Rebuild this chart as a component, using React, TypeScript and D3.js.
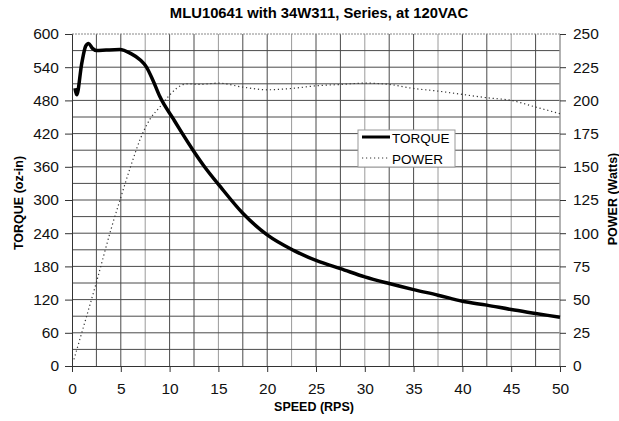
// @ts-nocheck
import React from "react";
import * as d3 from "d3";

const speedTicks = [0, 5, 10, 15, 20, 25, 30, 35, 40, 45, 50];
const torqueTicks = [0, 60, 120, 180, 240, 300, 360, 420, 480, 540, 600];
const powerTicks = [0, 25, 50, 75, 100, 125, 150, 175, 200, 225, 250];

const torqueSpeed = [0.3, 0.48, 1.0, 1.4, 1.7, 2.1, 2.5, 3.5, 4.9, 6.0, 7.0, 7.6, 8.3, 9.0, 10.4, 11.2, 12.4, 13.5, 15.2, 17.5, 20, 22.7, 25.4, 27.5, 30, 32.5, 35, 37.5, 40, 42.5, 45, 47.5, 50];
const torqueValues = [502, 490, 547, 578, 583, 574, 570, 571, 572, 565, 553, 541, 516, 487, 446, 423, 390, 362, 324, 276, 237, 209, 188, 176, 161, 149, 138, 128, 117, 110, 102, 95, 88];

const powerSpeed = [0.2, 1, 2.5, 4, 5, 6, 7, 8, 9, 10, 10.7, 11.8, 13, 15, 17.5, 20, 22.5, 25, 27.5, 30, 32.5, 35, 37.5, 40, 42.5, 45, 47.5, 50];
const powerValues = [5, 25, 63, 103, 127, 150, 171, 186, 195, 204, 209, 212.5, 212, 213, 210, 208, 209, 211, 212, 213, 212, 209, 207, 204.5, 202, 200, 195, 190];

const margin = { left: 72, top: 34, right: 59, bottom: 55 };
const W = 619;
const H = 421;

const Chart = () => {
  const ref = React.useRef(null);

  React.useEffect(() => {
    const width = W - margin.left - margin.right;
    const height = H - margin.top - margin.bottom;
    const x = d3.scaleLinear().domain([0, 50]).range([0, width]);
    const yT = d3.scaleLinear().domain([0, 600]).range([height, 0]);
    const yP = d3.scaleLinear().domain([0, 250]).range([height, 0]);

    const svgEl = d3.select(ref.current);
    svgEl.selectAll("*").remove();
    svgEl.append("rect").attr("width", W).attr("height", H).attr("fill", "white");

    const font = "Liberation Sans, Arial, sans-serif";

    // title
    svgEl.append("text")
      .attr("x", 319).attr("y", 18)
      .attr("text-anchor", "middle")
      .attr("font-family", font)
      .attr("font-weight", "bold")
      .attr("font-size", 14.8)
      .attr("fill", "#000")
      .text("MLU10641 with 34W311, Series, at 120VAC");

    const svg = svgEl.append("g").attr("transform", `translate(${margin.left},${margin.top})`);

    // grid
    const grid = svg.append("g");
    grid.selectAll(".vg")
      .data(d3.range(2.5, 50, 2.5))
      .enter().append("line")
      .attr("x1", d => x(d)).attr("x2", d => x(d))
      .attr("y1", 0).attr("y2", height)
      .attr("stroke", (d, i) => (i % 3 === 2 ? "#9a9a9a" : "#4a4a4a"))
      .attr("stroke-width", 1);
    grid.selectAll(".hg")
      .data(d3.range(30, 600, 30))
      .enter().append("line")
      .attr("x1", 0).attr("x2", width)
      .attr("y1", d => yT(d)).attr("y2", d => yT(d))
      .attr("stroke", "#4a4a4a")
      .attr("stroke-width", 1);
    // top border dotted, right border gray
    svg.append("line").attr("x1", 0).attr("x2", width).attr("y1", 0).attr("y2", 0)
      .attr("stroke", "#888").attr("stroke-dasharray", "2,1");
    svg.append("line").attr("x1", width).attr("x2", width).attr("y1", 0).attr("y2", height)
      .attr("stroke", "#999").attr("stroke-width", 1.5);

    // left axis
    const yAxisL = svg.append("g").call(d3.axisLeft(yT).tickValues(torqueTicks).tickSize(7).tickPadding(6));
    yAxisL.select(".domain").attr("stroke", "#333");
    yAxisL.selectAll("line").attr("stroke", "#333");
    yAxisL.selectAll("text").attr("font-size", 15.5).attr("font-family", font).attr("fill", "#111");

    // right axis
    const yAxisR = svg.append("g").attr("transform", `translate(${width},0)`)
      .call(d3.axisRight(yP).tickValues(powerTicks).tickSize(6).tickPadding(7));
    yAxisR.select(".domain").remove();
    yAxisR.selectAll("line").attr("stroke", "#333");
    yAxisR.selectAll("text").attr("font-size", 15.5).attr("font-family", font).attr("fill", "#111");

    // bottom axis
    const xAxis = svg.append("g").attr("transform", `translate(0,${height})`)
      .call(d3.axisBottom(x).tickValues(speedTicks).tickSize(6).tickPadding(11));
    xAxis.select(".domain").attr("stroke", "#333");
    xAxis.selectAll("line").attr("stroke", "#333");
    xAxis.selectAll("text").attr("font-size", 15.5).attr("font-family", font).attr("fill", "#111");

    // axis titles
    svg.append("text")
      .attr("x", width / 2 - 2).attr("y", height + 45)
      .attr("text-anchor", "middle")
      .attr("font-family", font).attr("font-weight", "bold").attr("font-size", 12.5)
      .attr("fill", "#000")
      .text("SPEED (RPS)");
    svg.append("text")
      .attr("transform", `translate(${-margin.left + 23},${height / 2 + 3}) rotate(-90)`)
      .attr("text-anchor", "middle")
      .attr("font-family", font).attr("font-weight", "bold").attr("font-size", 12.5)
      .attr("fill", "#000")
      .text("TORQUE (oz-in)");
    svg.append("text")
      .attr("transform", `translate(${width + 57},${height / 2 - 1}) rotate(-90)`)
      .attr("text-anchor", "middle")
      .attr("font-family", font).attr("font-weight", "bold").attr("font-size", 12.5)
      .attr("fill", "#000")
      .text("POWER (Watts)");

    // lines
    const powerLine = d3.line()
      .x((d, i) => x(powerSpeed[i]))
      .y(d => yP(d))
      .curve(d3.curveMonotoneX);
    svg.append("path")
      .attr("d", powerLine(powerValues))
      .attr("fill", "none")
      .attr("stroke", "#333")
      .attr("stroke-width", 1.2)
      .attr("stroke-dasharray", "1.2,2.8");

    const torqueLine = d3.line()
      .x((d, i) => x(torqueSpeed[i]))
      .y(d => yT(d))
      .curve(d3.curveMonotoneX);
    svg.append("path")
      .attr("d", torqueLine(torqueValues))
      .attr("fill", "none")
      .attr("stroke", "#000")
      .attr("stroke-width", 3.5)
      .attr("stroke-linejoin", "round");

    // legend
    const lg = svgEl.append("g").attr("transform", "translate(358,130)");
    lg.append("rect").attr("width", 97).attr("height", 37)
      .attr("fill", "white").attr("stroke", "#999").attr("stroke-width", 1);
    lg.append("line").attr("x1", 4).attr("x2", 32).attr("y1", 7).attr("y2", 7)
      .attr("stroke", "#000").attr("stroke-width", 3);
    lg.append("line").attr("x1", 4).attr("x2", 32).attr("y1", 28).attr("y2", 28)
      .attr("stroke", "#333").attr("stroke-width", 1).attr("stroke-dasharray", "1.2,2.8");
    lg.append("text").attr("x", 34).attr("y", 13).attr("font-family", font).attr("font-size", 13.5).text("TORQUE");
    lg.append("text").attr("x", 34).attr("y", 34).attr("font-family", font).attr("font-size", 13.5).text("POWER");
  }, []);

  return <svg ref={ref} width={W} height={H} style={{ position: "absolute", left: 0, top: 0, display: "block" }} />;
};

export default function App() {
  return <Chart />;
}
